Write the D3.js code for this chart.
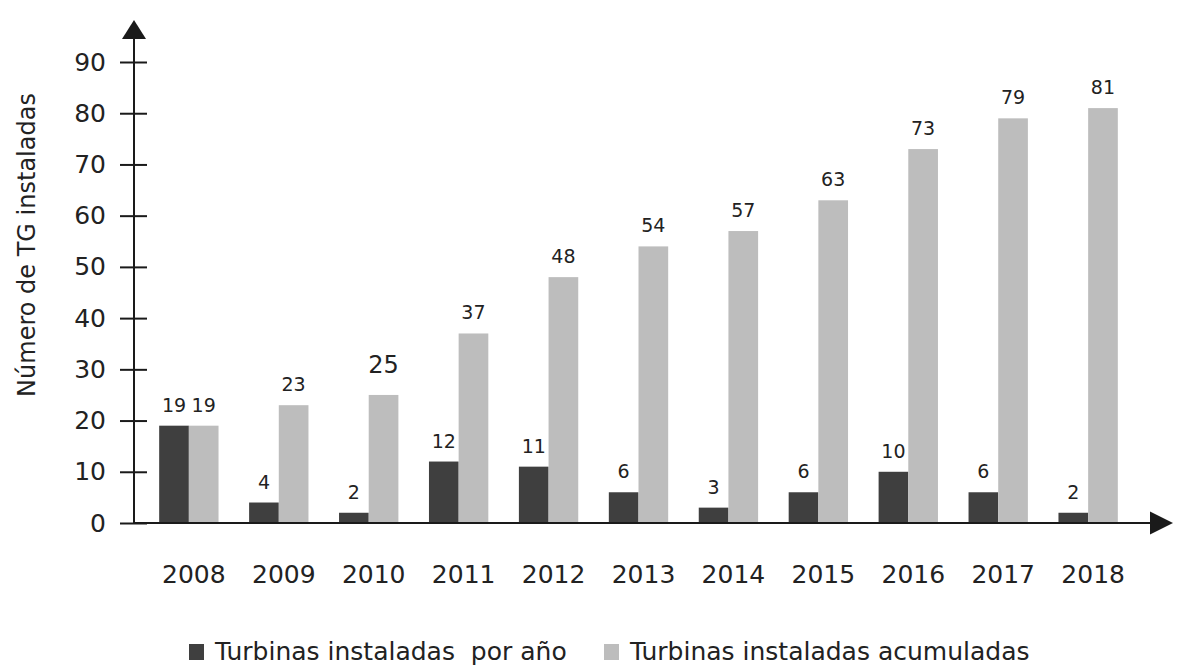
<!DOCTYPE html>
<html>
<head>
<meta charset="utf-8">
<script src="https://cdn.jsdelivr.net/npm/d3@7"></script>
<style>
  html, body { margin: 0; padding: 0; background: #fff; }
  #chart { width: 1178px; height: 670px; }
  text { font-family: "DejaVu Sans", Verdana, sans-serif; fill: #222; }
</style>
</head>
<body>
<div id="chart"></div>
<script>
// Turbinas de gas instaladas por año y acumuladas (2008–2018)
const YEARS = ["2008","2009","2010","2011","2012","2013","2014","2015","2016","2017","2018"];
const POR_ANO = [19, 4, 2, 12, 11, 6, 3, 6, 10, 6, 2];
const ACUMULADAS = [19, 23, 25, 37, 48, 54, 57, 63, 73, 79, 81];
const Y_TICKS = [0, 10, 20, 30, 40, 50, 60, 70, 80, 90];
const SERIES = ["Turbinas instaladas  por año", "Turbinas instaladas acumuladas"];
const COLORS = ["#3f3f3f", "#bdbdbd"];

const totalW = 1178, totalH = 670;

const svg = d3.select("#chart").append("svg")
  .attr("width", totalW).attr("height", totalH);

/* ── Scales ── */
const y = d3.scaleLinear().domain([0, 90]).range([523, 62]);
const x0 = d3.scaleBand().domain(YEARS).range([134, 1143])
  .paddingInner(0.34).paddingOuter(0.28);
const x1 = d3.scaleBand().domain([0, 1]).range([0, x0.bandwidth()]);

const rows = YEARS.map((yr, i) => ({ year: yr, vals: [POR_ANO[i], ACUMULADAS[i]] }));

/* ── Bars ── */
const groups = svg.append("g").selectAll("g.year")
  .data(rows).join("g").attr("class", "year")
  .attr("transform", d => `translate(${x0(d.year)},0)`);

groups.selectAll("rect")
  .data(d => d.vals.map((v, k) => ({ k, v, year: d.year })))
  .join("rect")
  .attr("x", d => x1(d.k))
  .attr("y", d => y(d.v))
  .attr("width", x1.bandwidth())
  .attr("height", d => y(0) - y(d.v))
  .attr("fill", d => COLORS[d.k]);

// value labels ("25" is printed bigger in the original)
groups.selectAll("text.val")
  .data(d => d.vals.map((v, k) => ({ k, v, year: d.year })))
  .join("text").attr("class", "val")
  .attr("x", d => x1(d.k) + x1.bandwidth() / 2)
  .attr("y", d => y(d.v) - (d.year === "2010" && d.k === 1 ? 22 : 14))
  .attr("text-anchor", "middle")
  .attr("font-size", d => (d.year === "2010" && d.k === 1 ? 24 : 19))
  .text(d => d.v);

/* ── Axes ── */
const yAx = svg.append("g").attr("transform", "translate(134,0)")
  .call(d3.axisLeft(y).tickValues(Y_TICKS).tickSize(0).tickPadding(28))
  .call(ax => ax.select(".domain").remove());
yAx.selectAll(".tick line").attr("x1", -14).attr("x2", 13)
  .attr("stroke", "#1a1a1a").attr("stroke-width", 2);
yAx.selectAll(".tick text").attr("font-size", 25).attr("fill", "#222")
  .attr("font-family", "DejaVu Sans, Verdana, sans-serif");

svg.append("g").attr("transform", `translate(5,${y(0)})`)
  .call(d3.axisBottom(x0).tickSize(0).tickPadding(42))
  .call(ax => ax.select(".domain").remove())
  .selectAll("text").attr("font-size", 25).attr("fill", "#222")
  .attr("font-family", "DejaVu Sans, Verdana, sans-serif");

// axis lines with arrow heads
svg.append("line").attr("x1", 134).attr("x2", 134).attr("y1", y(0) + 1).attr("y2", 36)
  .attr("stroke", "#1a1a1a").attr("stroke-width", 2);
svg.append("path").attr("d", "M134,20 L122,39 L146,39 Z").attr("fill", "#1a1a1a");
svg.append("line").attr("x1", 133).attr("x2", 1153).attr("y1", y(0)).attr("y2", y(0))
  .attr("stroke", "#1a1a1a").attr("stroke-width", 2);
svg.append("path").attr("d", `M1173,${y(0)} L1150,${y(0) - 11.5} L1150,${y(0) + 11.5} Z`)
  .attr("fill", "#1a1a1a");

/* ── Axis title ── */
svg.append("text")
  .attr("transform", "rotate(-90)")
  .attr("x", -245).attr("y", 35)
  .attr("text-anchor", "middle").attr("font-size", 24)
  .text("Número de TG instaladas");

/* ── Legend ── */
const legX = [189, 604];
SERIES.forEach((s, i) => {
  const row = svg.append("g").attr("transform", `translate(${legX[i]},644)`);
  row.append("rect").attr("width", 15).attr("height", 16).attr("fill", COLORS[i]);
  row.append("text").attr("x", 26).attr("y", 16)
    .attr("font-size", 25).style("white-space", "pre")
    .text(s);
});
</script>
</body>
</html>
